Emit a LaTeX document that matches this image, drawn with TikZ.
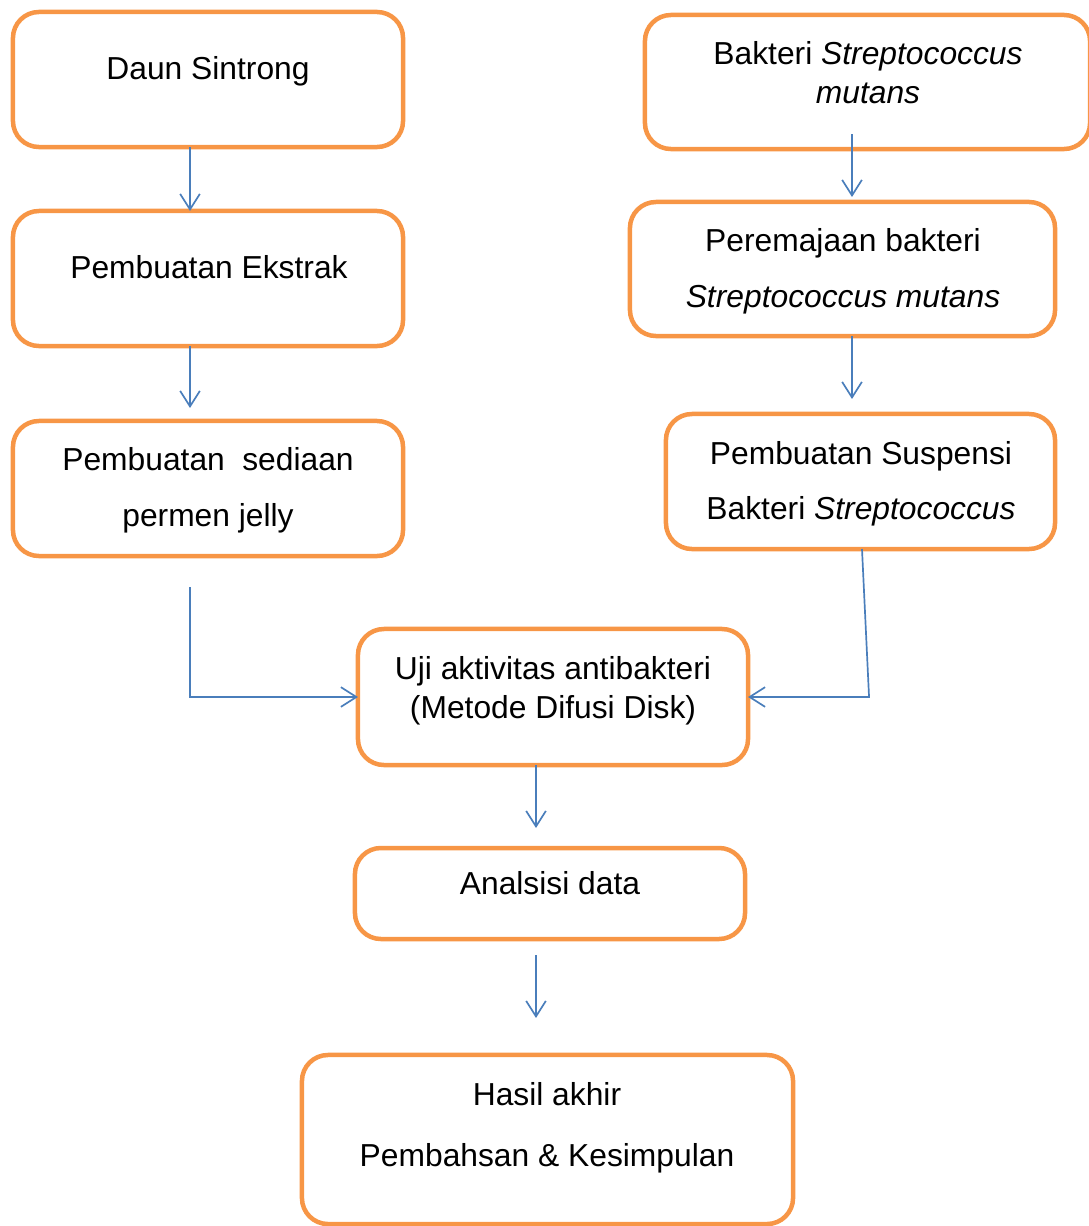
\documentclass[tikz,border=0pt]{standalone}
\usepackage{fontspec}
\setmainfont{Liberation Sans}
\usepackage{tikz}
\usetikzlibrary{arrows.meta, calc}
\definecolor{boxorange}{RGB}{247,150,70}
\definecolor{arrowblue}{RGB}{74,126,187}

\begin{document}
\begin{tikzpicture}[
    x=0.025cm, y=-0.025cm,
    box/.style 2 args={draw=boxorange, line width=3.2pt, rounded corners=0.65cm,
                       minimum width=#1, minimum height=#2, inner sep=0pt, outer sep=0pt},
    txt/.style={font=\fontsize{22.6}{#1}\selectfont, align=center, inner sep=0pt},
    txt/.default=27.7,
    arr/.style={draw=arrowblue, line width=1.2pt, -{Straight Barb[length=11pt,width=14pt]}}
]
    \useasboundingbox (0,0) rectangle (1088,1226);

    % left column
    \node[box={9.75cm}{3.375cm}] (daun) at (208,79.5) {};
    \node[box={9.75cm}{3.375cm}] (ekstrak) at (208,278.5) {};
    \node[box={9.75cm}{3.375cm}] (sediaan) at (208,488.5) {};
    \node[txt] (daunT) at (208,71) {Daun Sintrong};
    \node[txt] (ekstrakT) at (209,267) {Pembuatan Ekstrak};
    \node[txt=39.8] (sediaanT) at (208,490) {Pembuatan\hspace{0.55em}sediaan\\permen jelly};

    % right column
    \node[box={11.125cm}{3.35cm}] (bakteri) at (867.5,82) {};
    \node[box={10.625cm}{3.35cm}] (peremajaan) at (842.5,269) {};
    \node[box={9.725cm}{3.375cm}] (suspensi) at (860.5,481.5) {};
    \node[txt] (bakteriT) at (868,72.5) {Bakteri \textit{Streptococcus}\\\textit{mutans}};
    \node[txt=39.8] (peremajaanT) at (843,271) {Peremajaan bakteri\\\textit{Streptococcus mutans}};
    \node[txt=39.1] (suspensiT) at (861,483.5) {Pembuatan Suspensi\\Bakteri \textit{Streptococcus}};

    % bottom
    \node[box={9.75cm}{3.4cm}] (uji) at (553,697) {};
    \node[box={9.75cm}{2.275cm}] (analisis) at (550,893.5) {};
    \node[box={12.275cm}{4.225cm}] (hasil) at (547.5,1139.5) {};
    \node[txt] (ujiT) at (553,690.5) {Uji aktivitas antibakteri\\(Metode Difusi Disk)};
    \node[txt] (analisisT) at (550,883) {Analsisi data};
    \node[txt=43.4] (hasilT) at (547,1127.5) {Hasil akhir\\Pembahsan \& Kesimpulan};

    \draw[arr] ($(daun.south)+(-18,0)$) -- ($(ekstrak.north)+(-18,0)$);
    \draw[arr] ($(ekstrak.south)+(-18,0)$) -- ($(sediaan.north)+(-18,-13)$);
    \draw[arr] ($(sediaan.south)+(-18,31)$) |- (uji.west);
    \draw[arr] ($(bakteri.south)+(-15.5,-15)$) -- ($(peremajaan.north)+(9.5,-5)$);
    \draw[arr] ($(peremajaan.south)+(9.5,0)$) -- ($(suspensi.north)+(-8.5,-15)$);
    \draw[arr] ($(suspensi.south)+(1.5,0)$) -- ($(uji.east)+(121,0)$) -- (uji.east);
    \draw[arr] ($(uji.south)+(-17,0)$) -- ($(analisis.north)+(-14,-20)$);
    \draw[arr] ($(analisis.south)+(-14,16)$) -- ($(hasil.north)+(-11.5,-37)$);
\end{tikzpicture}
\end{document}
